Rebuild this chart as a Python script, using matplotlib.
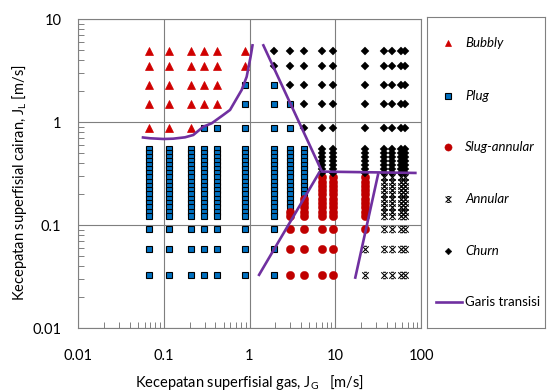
import matplotlib
matplotlib.use("Agg")
import matplotlib.pyplot as plt
from matplotlib.path import Path

plt.rcParams['font.family'] = ['Lato', 'DejaVu Sans']
plt.rcParams['mathtext.fontset'] = 'custom'
plt.rcParams['mathtext.rm'] = 'Lato'
plt.rcParams['mathtext.it'] = 'Lato:italic'

# ---------------- data ----------------
jg_values = [0.067, 0.116, 0.206, 0.294, 0.414, 0.886, 1.91, 2.99, 4.28,
             7.0, 9.5, 22.2, 37.3, 45.5, 58, 65]

jl_top = [4.9, 3.5, 2.3, 1.5, 0.87]
jl_stack = [0.55, 0.50, 0.46, 0.42, 0.38, 0.35, 0.32, 0.29, 0.26, 0.24,
            0.22, 0.20, 0.18, 0.165, 0.15, 0.135, 0.123]
jl_low = [0.091, 0.058, 0.033]
jl_levels = jl_top + jl_stack + jl_low

# regime code per JL level for each JG column
# B = Bubbly, P = Plug, S = Slug-annular, A = Annular, C = Churn
regime_codes = [
    "BBBBB" + "P" * 17 + "PPP",
    "BBBBB" + "P" * 17 + "PPP",
    "BBBBB" + "P" * 17 + "PPP",
    "BBBBP" + "P" * 17 + "PPP",
    "BBBBP" + "P" * 17 + "PPP",
    "BBPPP" + "P" * 17 + "PPP",
    "CCPPP" + "P" * 17 + "PPP",
    "CCCPP" + "P" * 15 + "SS" + "SSS",
    "CCCCC" + "P" * 12 + "S" * 5 + "SSS",
    "CCCCC" + "C" * 7 + "S" * 10 + "SSS",
    "CCCCC" + "C" * 7 + "S" * 10 + "SSS",
    "CCCCC" + "C" * 7 + "S" * 10 + "SAA",
    "CCCCC" + "C" * 7 + "A" * 10 + "AAA",
    "CCCCC" + "C" * 7 + "A" * 10 + "AAA",
    "CCCCC" + "C" * 7 + "A" * 10 + "AAA",
    "CCCCC" + "C" * 7 + "A" * 10 + "AAA",
]

# transition lines
line1_jg = [0.0553, 0.0692, 0.0989, 0.129, 0.177, 0.221, 0.289, 0.362, 0.494,
            0.593, 0.811, 0.927, 1.03, 1.09]
line1_jl = [0.710, 0.695, 0.684, 0.689, 0.710, 0.748, 0.900, 0.971, 1.17,
            1.31, 2.05, 2.75, 4.31, 5.71]
line2_jg = [1.43, 7.0, 89]
line2_jl = [5.7, 0.33, 0.32]
line3_jg = [1.27, 6.6]
line3_jl = [0.032, 0.33]
line4_jg = [17, 31.8]
line4_jl = [0.030, 0.318]

xticks = [0.01, 0.1, 1, 10, 100]
xtick_labels = ['0.01', '0.1', '1', '10', '100']
yticks = [0.01, 0.1, 1, 10]
ytick_labels = ['0.01', '0.1', '1', '10']

regime_names = {'B': 'Bubbly', 'P': 'Plug', 'S': 'Slug-annular',
                'A': 'Annular', 'C': 'Churn'}

# ---------------- styles ----------------
star = Path([(-1, -1), (1, 1), (-1, 1), (1, -1),
             (-0.45, 1), (0.45, 1), (-0.45, -1), (0.45, -1)],
            [Path.MOVETO, Path.LINETO, Path.MOVETO, Path.LINETO,
             Path.MOVETO, Path.LINETO, Path.MOVETO, Path.LINETO])
styles = {
    'B': dict(marker='^', color='#D00000', ms=5.5, mec='#D00000', mew=0.5),
    'P': dict(marker='s', mfc='#0070C0', mec='black', ms=4.6, mew=0.8),
    'S': dict(marker='o', color='#C00000', ms=6.0, mec='#C00000', mew=0.3),
    'A': dict(marker=star, color='black', ms=4.6, mew=0.8, mfc='none'),
    'C': dict(marker='D', color='black', ms=3.8, mew=0.3),
}
legend_sizes = {'B': 4.8, 'P': 4.3, 'S': 5.2, 'A': 4.2, 'C': 3.4}
purple = '#7030A0'
gray = '#808080'

fig = plt.figure(figsize=(5.47, 3.92), dpi=100)
W, H = 547, 392
ax = fig.add_axes([78 / W, 1 - 328 / H, (421 - 78) / W, (328 - 19) / H])
ax.set_xscale('log')
ax.set_yscale('log')

for code in ['P', 'B', 'S', 'A', 'C']:
    xs, ys = [], []
    for jg, codes in zip(jg_values, regime_codes):
        for jl, c in zip(jl_levels, codes):
            if c == code:
                xs.append(jg)
                ys.append(jl)
    ax.plot(xs, ys, linestyle='none', zorder=3, **styles[code])

for lx, ly in [(line1_jg, line1_jl), (line2_jg, line2_jl),
               (line3_jg, line3_jl), (line4_jg, line4_jl)]:
    ax.plot(lx, ly, color=purple, lw=1.9, zorder=4, solid_capstyle='butt')

ax.set_xlim(0.01, 100)
ax.set_ylim(0.01, 10)
ax.set_xticks(xticks, labels=xtick_labels)
ax.set_yticks(yticks, labels=ytick_labels)
ax.grid(which='major', color='#7F7F7F', lw=0.8)
ax.set_axisbelow(True)
ax.tick_params(which='major', length=0, labelsize=10.5, colors='black')
ax.tick_params(axis='x', which='major', pad=15)
ax.tick_params(axis='y', which='major', pad=12)
ax.tick_params(which='minor', direction='in', length=4, width=0.7,
               color=gray, labelleft=False, labelbottom=False)
for s in ax.spines.values():
    s.set_color(gray)
    s.set_linewidth(0.8)

ax.set_xlabel(r'Kecepatan superfisial gas, J$_\mathrm{G}$   [m/s]', fontsize=10.5)
ax.set_ylabel(r'Kecepatan superfisial cairan, J$_\mathrm{L}$ [m/s]', fontsize=10.5)
ax.xaxis.set_label_coords(0.5, (328 - 382) / 309)
ax.xaxis.label.set_va('center')
ax.yaxis.set_label_coords((20 - 78) / 343, 0.47)
ax.yaxis.label.set_va('center')

# ---------------- legend box ----------------
lax = fig.add_axes([427 / W, 1 - 328 / H, (545 - 427) / W, (328 - 17) / H])
lax.set_xlim(427, 545)
lax.set_ylim(328, 17)
lax.set_xticks([])
lax.set_yticks([])
for s in lax.spines.values():
    s.set_color(gray)
    s.set_linewidth(0.8)
leg_rows = [43, 96, 147, 199, 251]
for code, yy in zip(['B', 'P', 'S', 'A', 'C'], leg_rows):
    st = dict(styles[code])
    st['ms'] = legend_sizes[code]
    lax.plot([448], [yy], linestyle='none', **st)
    lax.text(465, yy, regime_names[code], style='italic', fontsize=9.5,
             va='center', ha='left')
lax.plot([436, 462], [302, 302], color=purple, lw=1.9)
lax.text(465, 302, 'Garis transisi', fontsize=9.5, va='center', ha='left')

fig.savefig('out.png', dpi=100)
